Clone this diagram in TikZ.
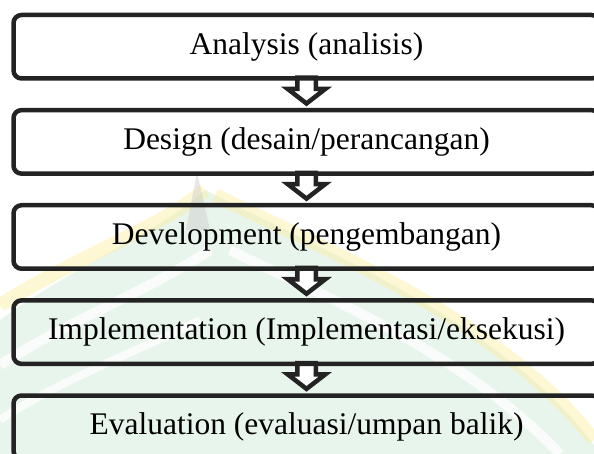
\documentclass[tikz,border=0pt]{standalone}
\usepackage{fontspec}
\setmainfont{Liberation Serif}
\usetikzlibrary{calc}
\definecolor{edge}{RGB}{35,35,35}
\definecolor{wmgreen}{RGB}{205,232,212}
\definecolor{wmyellow}{RGB}{250,238,160}
\tikzset{
  stagebox/.style={draw=edge, line width=4.5pt, rounded corners=8pt,
    minimum width=586pt, minimum height=63.5pt, inner sep=0pt,
    font=\fontsize{31.5}{37}\selectfont, text=black},
  blockarrow/.style={draw=edge, fill=white, line width=4.5pt, line join=miter}
}
\begin{document}
\begin{tikzpicture}[x=1pt,y=-1pt]
\useasboundingbox (0,0) rectangle (594,454);
\clip (0,0) rectangle (594,454);
% faint watermark
\begin{scope}[opacity=0.45]
\fill[wmgreen] (0,320) .. controls (80,262) and (160,232) .. (205,190)
  .. controls (320,250) and (500,320) .. (594,445) -- (594,454) -- (0,454) -- cycle;
\draw[wmyellow, line width=14pt] (0,305) .. controls (80,255) and (160,228) .. (205,190);
\draw[wmyellow, line width=14pt] (215,195) .. controls (330,252) and (500,320) .. (594,440);
\draw[white, line width=10pt, opacity=0.8] (0,365) .. controls (70,320) and (150,290) .. (210,250);
\draw[white, line width=10pt, opacity=0.8] (230,250) .. controls (330,300) and (460,350) .. (560,454);
\draw[white, line width=8pt, opacity=0.8] (0,420) .. controls (60,380) and (140,350) .. (200,320);
\fill[gray!40] (197,172) -- (210,230) -- (186,230) -- cycle;
\end{scope}
% stages
\coordinate (c1) at (306.5,46.75);
\path (c1) ++(0,95.125) coordinate (c2) ++(0,95.125) coordinate (c3)
  ++(0,95.125) coordinate (c4) ++(0,95.125) coordinate (c5);
% arrows (drawn under the boxes)
\foreach \a in {1,2,3,4}{
  \draw[blockarrow] ($(c\a)+(-9.25,31)$) -- ++(0,11.25) -- ++(-9.5,0) -- ++(18.75,14.5)
    -- ++(18.75,-14.5) -- ++(-9.5,0) -- ++(0,-11.25) -- cycle;
}
\node[stagebox] (s1) at (c1) {Analysis (analisis)};
\node[stagebox] (s2) at (c2) {Design (desain/perancangan)};
\node[stagebox] (s3) at (c3) {Development (pengembangan)};
\node[stagebox] (s4) at (c4) {Implementation (Implementasi/eksekusi)};
\node[stagebox] (s5) at (c5) {Evaluation (evaluasi/umpan balik)};
\end{tikzpicture}
\end{document}
